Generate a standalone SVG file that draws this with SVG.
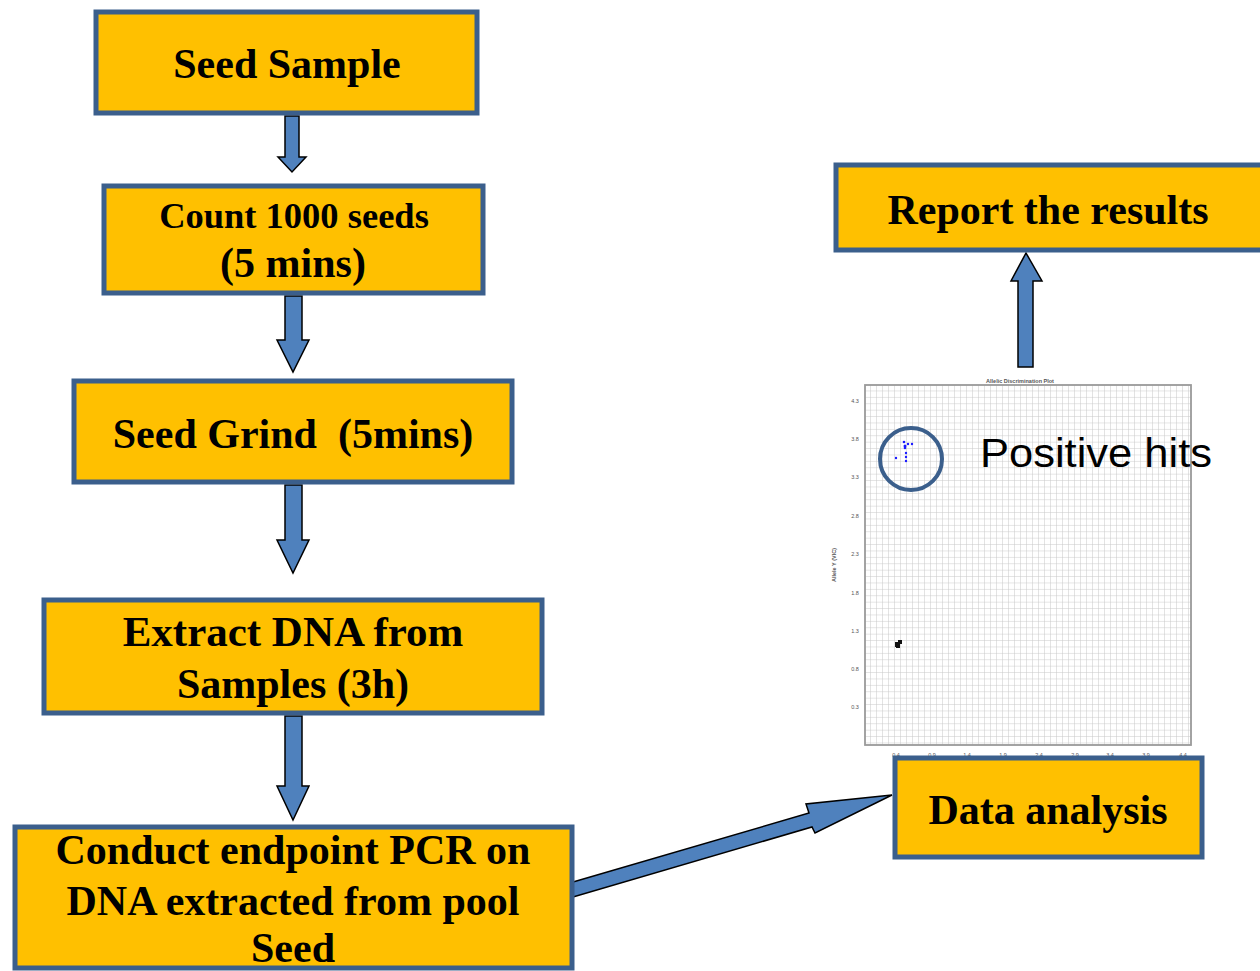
<svg xmlns="http://www.w3.org/2000/svg" width="1260" height="971" viewBox="0 0 1260 971">
<defs>
<style>
.box{fill:#ffc000;stroke:#3b5f8c;stroke-width:5}
.t{font-family:"Liberation Serif","Times New Roman",serif;font-weight:bold;font-size:42px;fill:#000;text-anchor:middle;white-space:pre}
.arr{fill:#4f81bd;stroke:#000;stroke-width:1.5;stroke-linejoin:miter}
.tick{font-family:"Liberation Sans",Arial,sans-serif;font-size:5.5px;fill:#555;text-anchor:middle}
</style>
<pattern id="grid" x="865" y="385" width="6" height="6.4" patternUnits="userSpaceOnUse">
<path d="M6 0V6.4M0 6.4H6" fill="none" stroke="#c8c8c8" stroke-width="1"/>
</pattern>
</defs>
<rect width="1260" height="971" fill="#fff"/>

<g id="chart">
<rect x="865" y="385" width="326" height="360" fill="url(#grid)" stroke="#9a9a9a" stroke-width="1.8"/>
<text x="1020" y="383" class="tick" font-weight="bold">Allelic Discrimination Plot</text>
<text transform="translate(836,565) rotate(-90)" class="tick" font-weight="bold">Allele Y (VIC)</text>
<text x="1026" y="766" class="tick" font-weight="bold">Allele X (FAM)</text>
<g class="tick">
<text x="855" y="403">4.3</text><text x="855" y="441">3.8</text><text x="855" y="479">3.3</text>
<text x="855" y="518">2.8</text><text x="855" y="556">2.3</text><text x="855" y="595">1.8</text>
<text x="855" y="633">1.3</text><text x="855" y="671">0.8</text><text x="855" y="709">0.3</text>
<text x="896" y="757">0.4</text><text x="932" y="757">0.9</text><text x="967" y="757">1.4</text>
<text x="1003" y="757">1.9</text><text x="1039" y="757">2.4</text><text x="1075" y="757">2.9</text>
<text x="1110" y="757">3.4</text><text x="1146" y="757">3.9</text><text x="1183" y="757">4.4</text>
</g>
<g fill="#1a1aff">
<circle cx="904" cy="442" r="1.3"/><circle cx="905" cy="446" r="1.5"/><circle cx="908" cy="444" r="1.2"/>
<circle cx="912" cy="444" r="1.2"/><circle cx="905" cy="448" r="1.3"/><circle cx="906" cy="453" r="1.2"/>
<circle cx="896" cy="458" r="1.2"/><circle cx="906" cy="457" r="1.2"/><circle cx="906" cy="461" r="1.2"/>
</g>
<g fill="#111">
<rect x="895" y="642" width="5" height="5"/><rect x="898" y="640" width="4" height="4"/><rect x="896" y="645" width="4" height="3"/>
</g>
<circle cx="911" cy="459" r="31" fill="none" stroke="#3b5f8c" stroke-width="4"/>
<text x="980" y="467" font-family="'Liberation Sans',Arial,sans-serif" font-size="40" textLength="232" lengthAdjust="spacingAndGlyphs" fill="#000">Positive hits</text>
</g>

<g id="connectors">
<polygon class="arr" points="285,116 299,116 299,157 306,157 292,172 278,157 285,157"/>
<polygon class="arr" points="285,296 302,296 302,340 309,340 293,372 277,340 285,340"/>
<polygon class="arr" points="285,485 302,485 302,540 309,540 293,573 277,540 285,540"/>
<polygon class="arr" points="285,716 302,716 302,786 309,786 293,820 277,786 285,786"/>
<polygon class="arr" points="1018,367 1033,367 1033,281 1042,281 1026,253 1011,281 1018,281"/>
<polygon class="arr" points="573,882 809,813 806,804 892,795 815,833 812,827 573,897"/>
</g>

<g id="n1"><rect class="box" x="96" y="12" width="381" height="101"/><text class="t" x="287" y="78">Seed Sample</text></g>
<g id="n2"><rect class="box" x="104" y="186" width="379" height="107"/><text class="t" x="294" y="228" style="font-size:36.5px">Count 1000 seeds</text><text class="t" x="293" y="277">(5 mins)</text></g>
<g id="n3"><rect class="box" x="74" y="381" width="438" height="101"/><text class="t" x="293" y="448">Seed Grind  (5mins)</text></g>
<g id="n4"><rect class="box" x="44" y="600" width="498" height="113"/><text class="t" x="293" y="646" style="font-size:43px">Extract DNA from</text><text class="t" x="293" y="698">Samples (3h)</text></g>
<g id="n5"><rect class="box" x="15" y="827" width="557" height="141"/><text class="t" x="293" y="864">Conduct endpoint PCR on</text><text class="t" x="293" y="915">DNA extracted from pool</text><text class="t" x="293" y="962">Seed</text></g>
<g id="n6"><rect class="box" x="836" y="165" width="427" height="85"/><text class="t" x="1048" y="224">Report the results</text></g>
<g id="n7"><rect class="box" x="895" y="758" width="307" height="99"/><text class="t" x="1048" y="824">Data analysis</text></g>
</svg>
